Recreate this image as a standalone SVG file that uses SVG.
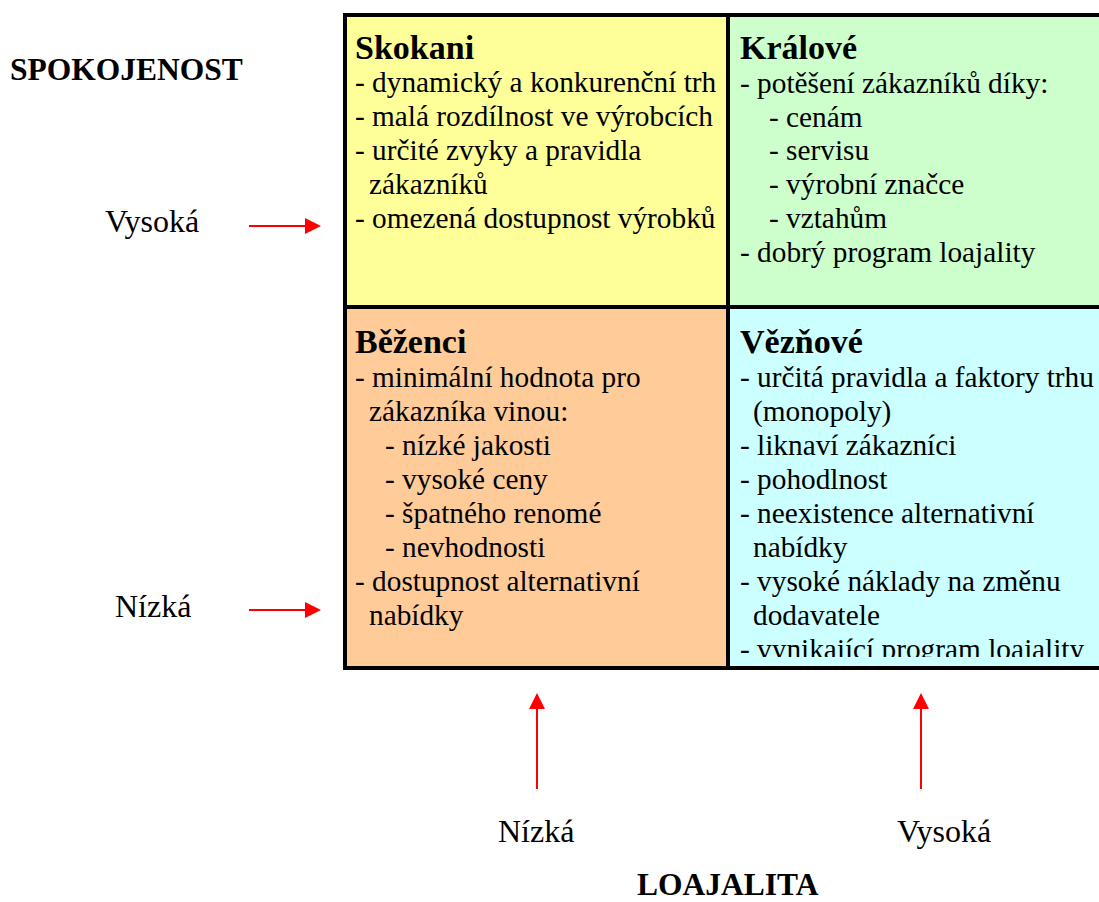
<svg xmlns="http://www.w3.org/2000/svg" width="1099" height="902" viewBox="0 0 1099 902">
<style>
text{font-family:"Liberation Serif","Times New Roman",serif;fill:#000}
.t{font-size:29.3px}
.l{font-size:32px}
.h{font-size:34px;font-weight:bold}
.ax{font-size:31.5px;font-weight:bold}
.cell{stroke:#000;stroke-width:4}
.arr{stroke:#FF0000;stroke-width:2;fill:none}
</style>
<defs>
<marker id="ah" viewBox="0 0 16 16" refX="0" refY="8" markerWidth="16" markerHeight="16" markerUnits="userSpaceOnUse" orient="auto">
<path d="M0,0 L16,8 L0,16 z" fill="#FF0000"/>
</marker>
<clipPath id="clipBR"><rect x="730" y="309" width="380" height="348"/></clipPath>
</defs>
<rect width="1099" height="902" fill="#fff"/>

<g id="skokani">
<rect class="cell" x="345" y="15" width="383" height="292" fill="#FFFF99"/>
<text class="h" x="355" y="59">Skokani</text>
<text class="t" x="355" y="92">- dynamický a konkurenční trh</text>
<text class="t" x="355" y="126">- malá rozdílnost ve výrobcích</text>
<text class="t" x="355" y="160">- určité zvyky a pravidla</text>
<text class="t" x="369" y="194">zákazníků</text>
<text class="t" x="355" y="228">- omezená dostupnost výrobků</text>
</g>

<g id="kralove">
<rect class="cell" x="728" y="15" width="390" height="292" fill="#CCFFCC"/>
<text class="h" x="740" y="59">Králové</text>
<text class="t" x="740" y="93">- potěšení zákazníků díky:</text>
<text class="t" x="769" y="127">- cenám</text>
<text class="t" x="769" y="160">- servisu</text>
<text class="t" x="769" y="194">- výrobní značce</text>
<text class="t" x="769" y="228">- vztahům</text>
<text class="t" x="740" y="262">- dobrý program loajality</text>
</g>

<g id="bezenci">
<rect class="cell" x="345" y="307" width="383" height="361" fill="#FFCC99"/>
<text class="h" x="355" y="353">Běženci</text>
<text class="t" x="355" y="387">- minimální hodnota pro</text>
<text class="t" x="369" y="421">zákazníka vinou:</text>
<text class="t" x="385" y="455">- nízké jakosti</text>
<text class="t" x="385" y="489">- vysoké ceny</text>
<text class="t" x="385" y="523">- špatného renomé</text>
<text class="t" x="385" y="557">- nevhodnosti</text>
<text class="t" x="355" y="591">- dostupnost alternativní</text>
<text class="t" x="369" y="625">nabídky</text>
</g>

<g id="veznove">
<rect class="cell" x="728" y="307" width="390" height="361" fill="#CCFFFF"/>
<text class="h" x="740" y="353">Vězňové</text>
<g clip-path="url(#clipBR)">
<text class="t" x="740" y="387">- určitá pravidla a faktory trhu</text>
<text class="t" x="753" y="421">(monopoly)</text>
<text class="t" x="740" y="455">- liknaví zákazníci</text>
<text class="t" x="740" y="489">- pohodlnost</text>
<text class="t" x="740" y="523">- neexistence alternativní</text>
<text class="t" x="753" y="557">nabídky</text>
<text class="t" x="740" y="591">- vysoké náklady na změnu</text>
<text class="t" x="753" y="625">dodavatele</text>
<text class="t" x="740" y="659">- vynikající program loajality</text>
</g>
</g>

<g id="axis-labels">
<text class="ax" x="10" y="80">SPOKOJENOST</text>
<text class="l" x="105" y="232">Vysoká</text>
<text class="l" x="115" y="617">Nízká</text>
<text class="l" x="498" y="842">Nízká</text>
<text class="l" x="897" y="842">Vysoká</text>
<text class="ax" x="637" y="895">LOAJALITA</text>
</g>

<g id="connectors">
<line class="arr" x1="249" y1="226" x2="305" y2="226" marker-end="url(#ah)"/>
<line class="arr" x1="249" y1="610" x2="305" y2="610" marker-end="url(#ah)"/>
<line class="arr" x1="537" y1="789" x2="537" y2="709" marker-end="url(#ah)"/>
<line class="arr" x1="921" y1="789" x2="921" y2="709" marker-end="url(#ah)"/>
</g>
</svg>
